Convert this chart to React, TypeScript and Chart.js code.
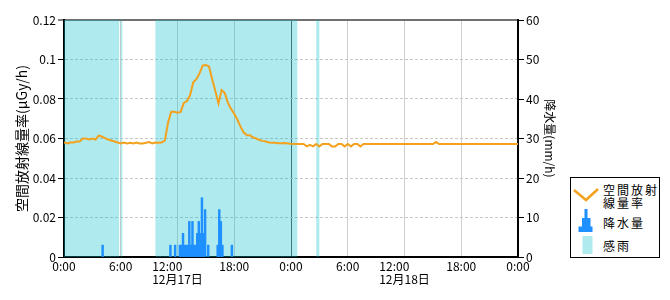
import React, { useEffect, useRef } from "react";
import { Chart, registerables } from "chart.js";

Chart.register(...registerables);

// ---- data ----
// x axis: hours since 12/17 0:00
const xTickHours = [0, 6, 12, 18, 24, 30, 36, 42, 48];
const xTickLabels = ["0:00", "6:00", "12:00", "18:00", "0:00", "6:00", "12:00", "18:00", "0:00"];
const dateTickHours = [12, 36];
const dateTickLabels = ["12月17日", "12月18日"];

// air dose rate (μGy/h), one value every 20 minutes from 12/17 0:00 to 12/19 0:00
const doseStepMinutes = 20;
const doseRate = [
  0.058, 0.0575, 0.058,
  0.058, 0.0585, 0.0585,
  0.06, 0.06, 0.0595,
  0.06, 0.0595, 0.0615,
  0.061, 0.0602, 0.0595,
  0.059, 0.0585, 0.058,
  0.0575, 0.058, 0.0575,
  0.0578, 0.0575, 0.058,
  0.0575, 0.0575, 0.0578,
  0.0582, 0.0575, 0.058,
  0.0578, 0.058, 0.059,
  0.068, 0.0735, 0.0735,
  0.073, 0.0735, 0.078,
  0.079, 0.082, 0.0885,
  0.09, 0.093, 0.097,
  0.0972, 0.0965, 0.09,
  0.084, 0.0778, 0.0845,
  0.083, 0.078, 0.075,
  0.0725, 0.0695, 0.066,
  0.063, 0.0617, 0.0617,
  0.0605, 0.06, 0.0592,
  0.0588, 0.0585, 0.058,
  0.0578, 0.0578, 0.0576,
  0.0576, 0.0577, 0.0575,
  // 12/18
  0.0573, 0.0572, 0.0572,
  0.0572, 0.0572, 0.056,
  0.0568, 0.056, 0.0572,
  0.056, 0.0572, 0.0572,
  0.0572, 0.056, 0.056,
  0.0572, 0.0572, 0.056,
  0.0572, 0.056, 0.0572,
  0.0572, 0.056, 0.0572,
  0.0572, 0.0572, 0.0572,
  0.0572, 0.0572, 0.0572,
  0.0572, 0.0572, 0.0572,
  0.0572, 0.0572, 0.0572,
  0.0572, 0.0572, 0.0572,
  0.0572, 0.0572, 0.0572,
  0.0572, 0.0572, 0.0572,
  0.0572, 0.0582, 0.0572,
  0.0572, 0.0572, 0.0572,
  0.0572, 0.0572, 0.0572,
  0.0572, 0.0572, 0.0572,
  0.0572, 0.0572, 0.0572,
  0.0572, 0.0572, 0.0572,
  0.0572, 0.0572, 0.0572,
  0.0572, 0.0572, 0.0572,
  0.0572, 0.0572, 0.0572,
  0.0572,
];

// precipitation (mm/h), 10-minute bins (bin start times, 12/17)
const rainBinStart = [
  "4:00", "11:10", "11:40", "12:10", "12:20", "12:30", "12:40", "12:50", "13:00",
  "13:10", "13:20", "13:30", "13:40", "13:50", "14:00", "14:10", "14:20", "14:30",
  "14:40", "14:50", "15:10", "16:10", "16:20", "16:30", "16:40", "17:40",
];
const rainValues = [
  3, 3, 3, 3, 3, 6, 3, 3, 3,
  9, 3, 9, 3, 3, 6, 9, 6, 15,
  6, 12, 3, 3, 12, 9, 3, 3,
];
const rainBinMinutes = 10;

// rain sensing (感雨) periods, minutes since 12/17 0:00
const senseStartMinutes = [0, 360, 580, 1600];
const senseEndMinutes = [350, 370, 1480, 1620];

// ---- styles ----
const FONT = "'Noto Sans CJK JP', 'Noto Sans', sans-serif";
const ORANGE = "#f2a21e";
const BLUE = "#1e90ff";
const CYAN = "#afeaee";
const CYAN_FILL = "rgba(5,189,202,0.32)";

const toHours = (s: string) => {
  const [h, m] = s.split(":").map(Number);
  return h + m / 60;
};

export default function App() {
  const canvasRef = useRef<HTMLCanvasElement | null>(null);

  useEffect(() => {
    const canvas = canvasRef.current;
    if (!canvas) return;

    const doseData = doseRate.map((v, i) => ({ x: (i * doseStepMinutes) / 60, y: v }));
    const rainData = rainBinStart.map((t, i) => ({
      x: toHours(t) + rainBinMinutes / 2 / 60,
      y: rainValues[i],
    }));
    const senseData: { x: number; y: number }[] = [];
    for (let t = 0; t <= 48 * 60; t += rainBinMinutes) {
      const on = senseStartMinutes.some((s, i) => t >= s && t < senseEndMinutes[i]);
      senseData.push({ x: t / 60, y: on ? 1 : 0 });
    }

    const tickFont = { family: FONT, size: 12, lineHeight: 1.1 };

    const chart = new Chart(canvas, {
      type: "line",
      data: {
        datasets: [
          {
            type: "line",
            label: "空間放射線量率",
            data: doseData,
            borderColor: ORANGE,
            borderWidth: 2,
            pointRadius: 0,
            tension: 0,
            yAxisID: "y",
            order: 1,
          } as any,
          {
            type: "bar",
            label: "降水量",
            data: rainData,
            backgroundColor: BLUE,
            borderWidth: 0,
            barThickness: 1.8,
            yAxisID: "yRain",
            order: 2,
          } as any,
          {
            type: "line",
            label: "感雨",
            data: senseData,
            stepped: true,
            fill: "origin",
            backgroundColor: CYAN_FILL,
            borderColor: "rgba(0,0,0,0)",
            borderWidth: 0,
            pointRadius: 0,
            yAxisID: "ySense",
            order: 3,
          } as any,
        ],
      },
      options: {
        animation: false,
        responsive: false,
        maintainAspectRatio: false,
        layout: { padding: { left: 0, right: 106, top: 20, bottom: 0 } },
        plugins: { legend: { display: false }, tooltip: { enabled: false } },
        scales: {
          x: {
            type: "linear",
            min: 0,
            max: 48,
            offset: false,
            afterBuildTicks: (s: any) => {
              s.ticks = xTickHours.map((v) => ({ value: v }));
            },
            afterFit: (s: any) => {
              s.height = 43;
            },
            ticks: {
              autoSkip: false,
              maxRotation: 0,
              minRotation: 0,
              padding: 3,
              color: "#000",
              font: tickFont,
              callback: (v: any) => {
                const i = xTickHours.indexOf(Number(v));
                const label = i >= 0 ? xTickLabels[i] : "";
                const d = dateTickHours.indexOf(Number(v));
                if (d >= 0) return [label + "\u3000\u2002\u2009", dateTickLabels[d]];
                return label;
              },
            },
            grid: {
              drawTicks: false,
              offset: false,
              color: (ctx: any) => (ctx.tick && ctx.tick.value === 24 ? "#555555" : "#cfcfcf"),
              lineWidth: 1,
            },
            border: { color: "#000", width: 2 },
          } as any,
          y: {
            position: "left",
            min: 0,
            max: 0.12,
            afterFit: (s: any) => {
              s.width = 64;
            },
            ticks: {
              stepSize: 0.02,
              padding: 2,
              color: "#000",
              font: tickFont,
              callback: (v: any) => String(parseFloat(Number(v).toFixed(2))),
            },
            grid: {
              color: (ctx: any) => (ctx.tick && ctx.tick.value > 0.119 ? "#707070" : "#c8c8c8"),
              lineWidth: (ctx: any) => (ctx.tick && ctx.tick.value > 0.119 ? 2 : 1),
              tickColor: "#000",
              tickWidth: 1,
              tickLength: 6,
            },
            border: {
              color: "#000",
              width: 2,
              dash: (ctx: any) => (ctx.tick && ctx.tick.value > 0.119 ? [] : [3, 2]),
            },
            title: {
              display: true,
              text: "空間放射線量率(μGy/h)",
              color: "#000",
              font: { family: FONT, size: 14 },
              padding: { top: 13, bottom: 0 },
            },
          } as any,
          yRain: {
            position: "right",
            min: 0,
            max: 60,
            afterFit: (s: any) => {
              s.width = 46;
            },
            ticks: {
              stepSize: 10,
              padding: 2,
              color: "#000",
              font: tickFont,
            },
            grid: {
              drawOnChartArea: false,
              tickColor: "#000",
              tickWidth: 1,
              tickLength: 6,
            },
            border: { color: "#000", width: 2 },
            title: {
              display: true,
              text: "降水量(mm/h)",
              color: "#000",
              font: { family: FONT, size: 12 },
              padding: { top: 7, bottom: 0 },
            },
          } as any,
          ySense: {
            display: false,
            min: 0,
            max: 1,
          } as any,
        },
      } as any,
    });

    return () => chart.destroy();
  }, []);

  const legendText: React.CSSProperties = {
    position: "absolute",
    left: 32,
    fontFamily: FONT,
    fontSize: 12,
    letterSpacing: 2,
    color: "#000",
    whiteSpace: "nowrap",
  };

  return (
    <div
      style={{
        position: "fixed",
        left: 0,
        top: 0,
        width: 670,
        height: 300,
        background: "#fff",
        overflow: "hidden",
      }}
    >
      <canvas ref={canvasRef} width={670} height={300} style={{ display: "block" }} />
      <div
        style={{
          position: "absolute",
          left: 570,
          top: 177,
          width: 88,
          height: 79,
          border: "1px solid #000",
          background: "#fff",
        }}
      >
        <svg width={88} height={79} style={{ position: "absolute", left: 0, top: 0 }}>
          <polyline points="3,12 15,22 27,11" fill="none" stroke={ORANGE} strokeWidth={2.5} />
          <polygon
            points="13.5,31 16.5,31 16.5,40 19.5,40 19.5,48.5 21.5,48.5 21.5,54 7.5,54 7.5,48.5 11,48.5 11,40 13.5,40"
            fill={BLUE}
          />
          <rect x={11.5} y={58} width={10} height={18} fill={CYAN} />
        </svg>
        <div style={{ ...legendText, top: 5, lineHeight: "13px" }}>
          空間放射
          <br />
          線量率
        </div>
        <div style={{ ...legendText, top: 37, lineHeight: "16px" }}>降水量</div>
        <div style={{ ...legendText, top: 60, lineHeight: "16px" }}>感雨</div>
      </div>
    </div>
  );
}
